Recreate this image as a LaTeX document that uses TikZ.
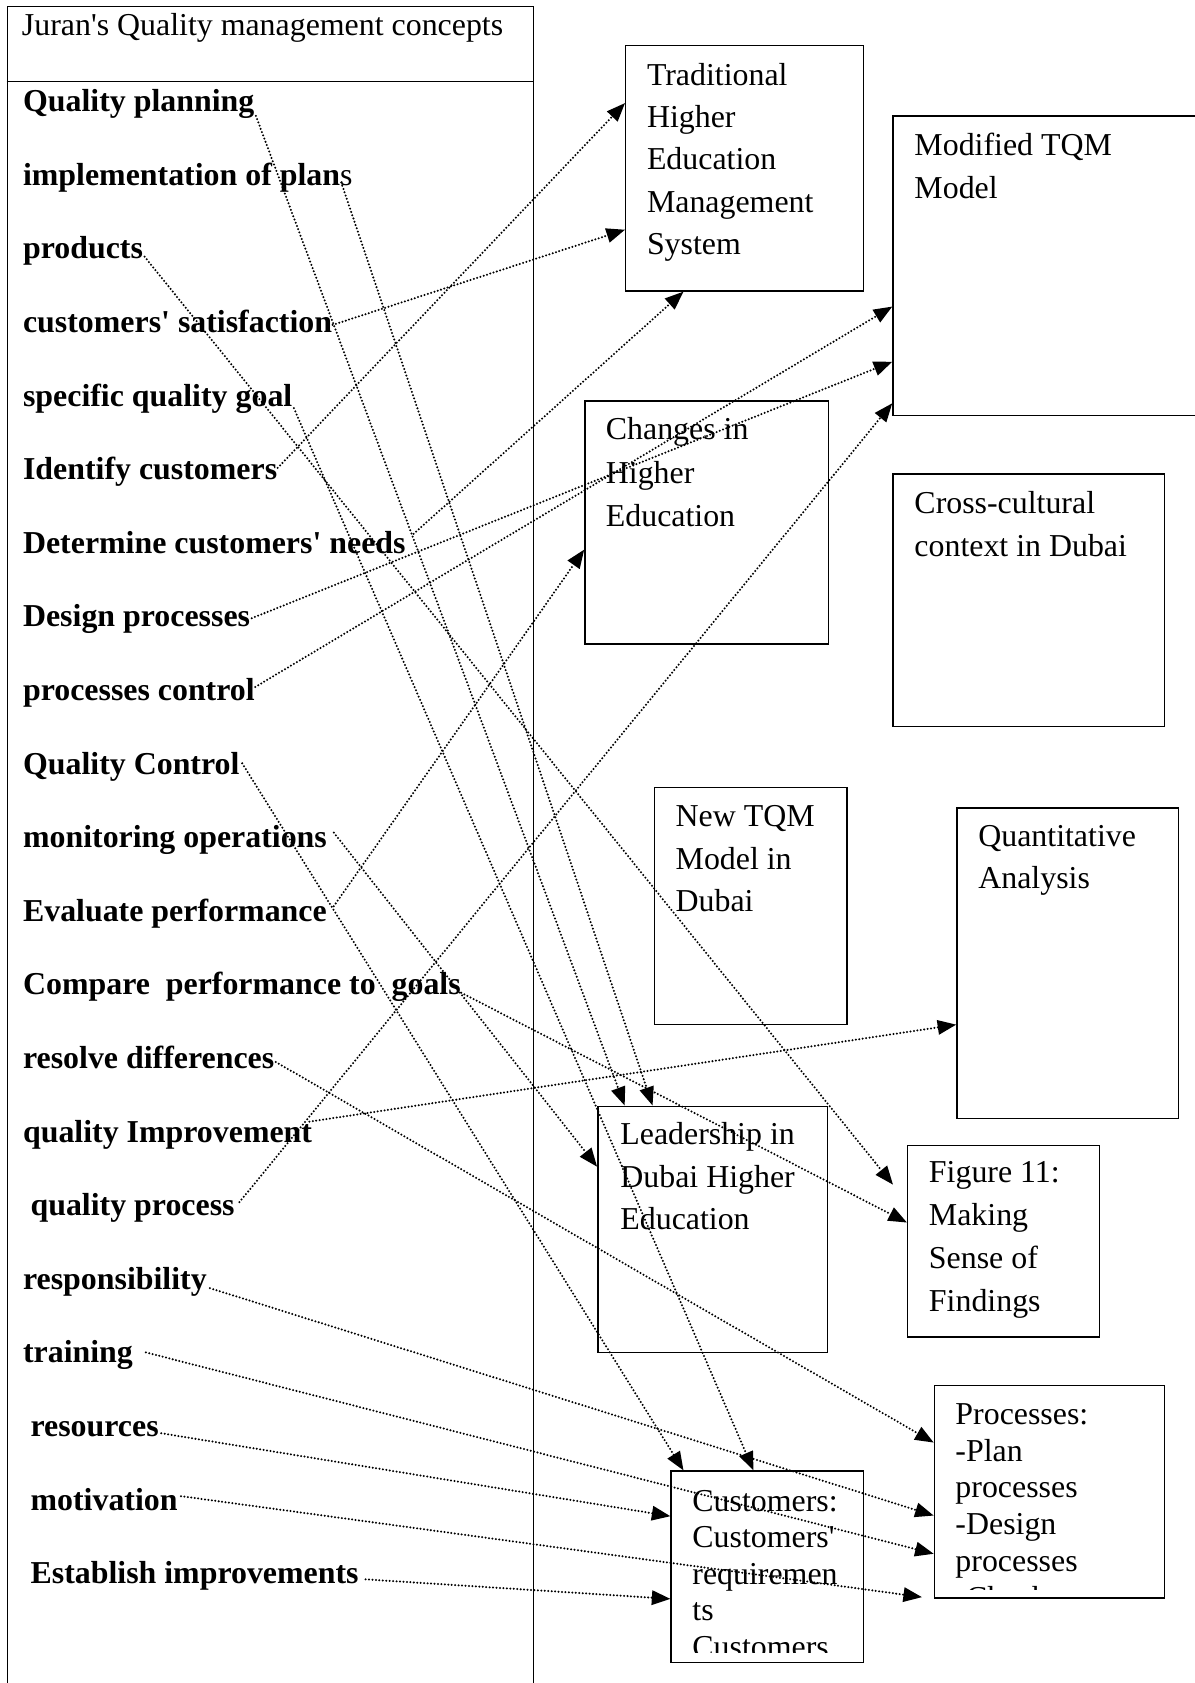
\documentclass[tikz,border=0pt]{standalone}
\usepackage{fontspec}
\setmainfont{Liberation Serif}
\usetikzlibrary{arrows.meta,fit}
\newcommand{\apos}{\textquotesingle}
\begin{document}
\begin{tikzpicture}[x=0.404pt,y=-0.404pt,
  panel/.style={draw=black,line width=0.55pt,inner sep=0pt},
  concept/.style={font=\fontsize{12pt}{16pt}\selectfont\bfseries,inner sep=0pt,anchor=base west},
  boxtext/.style={font=\fontsize{12pt}{16pt}\selectfont,inner sep=0pt,anchor=base west},
  conn/.style={line width=0.85pt,line cap=round,dash pattern=on 0pt off 1.3pt,
               -{Triangle[length=7pt,width=5.4pt]}}]

\useasboundingbox[fill=white] (0,0) rectangle (1113,1568);

% ---- left column: Juran's concepts ----
\node[panel,line width=0.65pt,fit={(7,6) (497,1620)}] (juran) {};
\draw[line width=0.65pt] (juran.west |- 0,76) -- (juran.east |- 0,76);
\node[boxtext] (jhead) at (20,32.6) {Juran\apos s Quality management concepts};

\node[concept] (q1)  at (21,104.0)  {Quality planning};
\node[concept] (q2)  at (21,172.6)  {implementation of plan\mdseries s};
\node[concept] (q3)  at (21,241.1)  {products};
\node[concept] (q4)  at (21,309.7)  {customers\apos\ satisfaction};
\node[concept] (q5)  at (21,378.3)  {specific quality goal};
\node[concept] (q6)  at (21,446.9)  {Identify customers};
\node[concept] (q7)  at (21,515.4)  {Determine customers\apos\ needs};
\node[concept] (q8)  at (21,584.0)  {Design processes};
\node[concept] (q9)  at (21,652.6)  {processes control};
\node[concept] (q10) at (21,721.1)  {Quality Control};
\node[concept] (q11) at (21,789.7)  {monitoring operations};
\node[concept] (q12) at (21,858.3)  {Evaluate performance};
\node[concept] (q13) at (21,926.9)  {Compare\ \ performance to\ \ goals};
\node[concept] (q14) at (21,995.4)  {resolve differences};
\node[concept] (q15) at (21,1064.0) {quality Improvement};
\node[concept] (q16) at (28,1132.6) {quality process};
\node[concept] (q17) at (21,1201.1) {responsibility};
\node[concept] (q18) at (21,1269.7) {training};
\node[concept] (q19) at (28,1338.3) {resources};
\node[concept] (q20) at (28,1406.9) {motivation};
\node[concept] (q21) at (28,1475.4) {Establish improvements};

% ---- boxes on the right ----
\node[panel,fit={(583,42.5) (804.7,271)}]      (trad)  {};
\node[panel,fit={(832,108) (1125,387)}]        (mod)   {};
\node[panel,fit={(545,373.5) (771.7,600)}]     (chg)   {};
\node[panel,fit={(832,441.5) (1085,676.8)}]    (cross) {};
\node[panel,fit={(610,733.6) (789,954.6)}]     (newm)  {};
\node[panel,fit={(891.6,752.8) (1098,1042)}]   (quant) {};
\node[panel,fit={(557,1030.7) (771,1260)}]     (lead)  {};
\node[panel,fit={(845.7,1067) (1024.6,1245.5)}] (fig)  {};
\node[panel,fit={(870.6,1290.8) (1085,1489)}]  (proc)  {};
\node[panel,fit={(625.3,1370.6) (804.7,1549)}] (cust)  {};

\foreach \t [count=\i from 0] in {Traditional,Higher,Education,Management,System}
  \node[boxtext] (trad-\i) at (602.3,{79.2+39.5*\i}) {\t};
\foreach \t [count=\i from 0] in {Modified TQM,Model}
  \node[boxtext] (mod-\i) at (851.5,{144.4+40.3*\i}) {\t};
\foreach \t [count=\i from 0] in {Changes in,Higher,Education}
  \node[boxtext] (chg-\i) at (564,{409.8+40.3*\i}) {\t};
\foreach \t [count=\i from 0] in {Cross-cultural,context in Dubai}
  \node[boxtext] (cross-\i) at (851.5,{478+40.5*\i}) {\t};
\foreach \t [count=\i from 0] in {New TQM,Model in,Dubai}
  \node[boxtext] (newm-\i) at (629,{770+39.8*\i}) {\t};
\foreach \t [count=\i from 0] in {Quantitative,Analysis}
  \node[boxtext] (quant-\i) at (911,{788.6+39.6*\i}) {\t};
\foreach \t [count=\i from 0] in {Leadership in,Dubai Higher,Education}
  \node[boxtext] (lead-\i) at (577.5,{1066.4+39.6*\i}) {\t};
\foreach \t [count=\i from 0] in {Figure 11:,Making,Sense of,Findings}
  \node[boxtext] (fig-\i) at (865,{1102+39.9*\i}) {\t};

\begin{scope}
  \clip (870.6,1290.8) rectangle (1085,1481);
  \foreach \t [count=\i from 0] in {Processes:,-Plan,processes,-Design,processes,-Check}
    \node[boxtext] (proc-\i) at (889.7,{1327.2+34.2*\i}) {\t};
\end{scope}
\begin{scope}
  \clip (625.3,1370.6) rectangle (804.7,1540);
  \foreach \t [count=\i from 0] in {Customers:,Customers\apos,requiremen,ts,Customers}
    \node[boxtext] (cust-\i) at (644.6,{1408+34*\i}) {\t};
\end{scope}

% free ends of two connectors
\coordinate (figtip)  at (832,1103.7);
\coordinate (proctip) at (859,1488);

% ---- connectors ----
\draw[conn] ([shift={(1,4)}]q1.base east)      -- (582,0 |- lead.north);
\draw[conn] ([shift={(-11,-2.6)}]q2.base east) -- (608,0 |- lead.north);
\draw[conn] ([shift={(1,-2)}]q3.base east)     -- (figtip);
\draw[conn] ([shift={(0,-7)}]q4.base east)     -- (trad.west |- 0,214);
\draw[conn] ([shift={(1,2)}]q5.base east)      -- (702,0 |- cust.north);
\draw[conn] ([shift={(0,-11)}]q6.base east)    -- (trad.west |- 0,96);
\draw[conn] ([shift={(7,-18)}]q7.base east)    -- (636.8,0 |- trad.south);
\draw[conn] ([shift={(1,-8)}]q8.base east)     -- (mod.west |- 0,337);
\draw[conn] ([shift={(0,-12.6)}]q9.base east)  -- (mod.west |- 0,285.6);
\draw[conn] ([shift={(2,-10)}]q10.base east)   -- (636.8,0 |- cust.north);
\draw[conn] ([shift={(6,-14)}]q11.base east)   -- (lead.west |- 0,1087);
\draw[conn] ([shift={(6,-14)}]q12.base east)   -- (chg.west |- 0,512);
\draw[conn] ([shift={(0,-2)}]q13.base east)    -- (fig.west |- 0,1139);
\draw[conn] ([shift={(1,-6)}]q14.base east)    -- (proc.west |- 0,1344);
\draw[conn] ([shift={(-3,-19)}]q15.base east)  -- (quant.west |- 0,954.6);
\draw[conn] ([shift={(4,-12.6)}]q16.base east) -- (mod.west |- 0,375.7);
\draw[conn] ([shift={(2.5,-1)}]q17.base east)  -- (proc.west |- 0,1412);
\draw[conn] ([shift={(11.6,-9.7)}]q18.base east) -- (proc.west |- 0,1447.6);
\draw[conn] ([shift={(2,-3)}]q19.base east)    -- (cust.west |- 0,1412.6);
\draw[conn] ([shift={(2.7,-13)}]q20.base east) -- (proctip);
\draw[conn] ([shift={(6,-4)}]q21.base east)    -- (cust.west |- 0,1489.6);

\end{tikzpicture}
\end{document}
